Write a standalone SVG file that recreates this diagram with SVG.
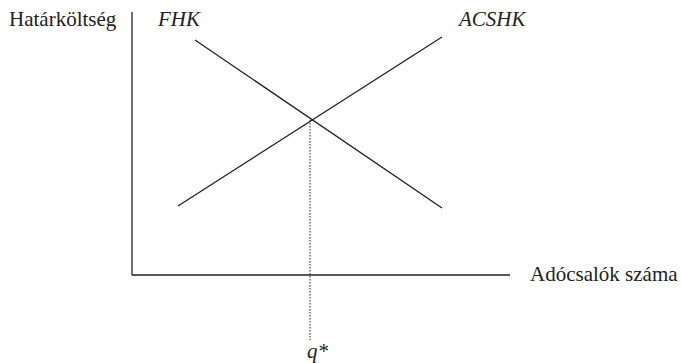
<svg xmlns="http://www.w3.org/2000/svg" width="681" height="363" viewBox="0 0 681 363">
<style>
.t{font-family:"Liberation Serif","Times New Roman",serif;font-size:21px;fill:#222}
.i{font-style:italic}
.ln{stroke:#222;stroke-width:1.3;fill:none}
.dot{stroke:#222;stroke-width:1;stroke-dasharray:1.5 1.5;fill:none}
</style>
<rect width="681" height="363" fill="#fff"/>
<g id="axes">
<line class="ln" x1="132" y1="12" x2="132" y2="275"/>
<line class="ln" x1="132" y1="275" x2="510" y2="275"/>
</g>
<g id="connectors">
<line id="fhk-line" class="ln" x1="195" y1="40" x2="442" y2="208"/>
<line id="acshk-line" class="ln" x1="178" y1="206" x2="442" y2="37"/>
<line id="q-line" class="dot" x1="310" y1="120" x2="310" y2="340"/>
</g>
<g id="labels">
<text class="t" x="9" y="26">Határköltség</text>
<text class="t i" x="158" y="26">FHK</text>
<text class="t i" x="459" y="26">ACSHK</text>
<text class="t" x="530" y="281">Adócsalók száma</text>
<text class="t i" x="307" y="358">q*</text>
</g>
</svg>
